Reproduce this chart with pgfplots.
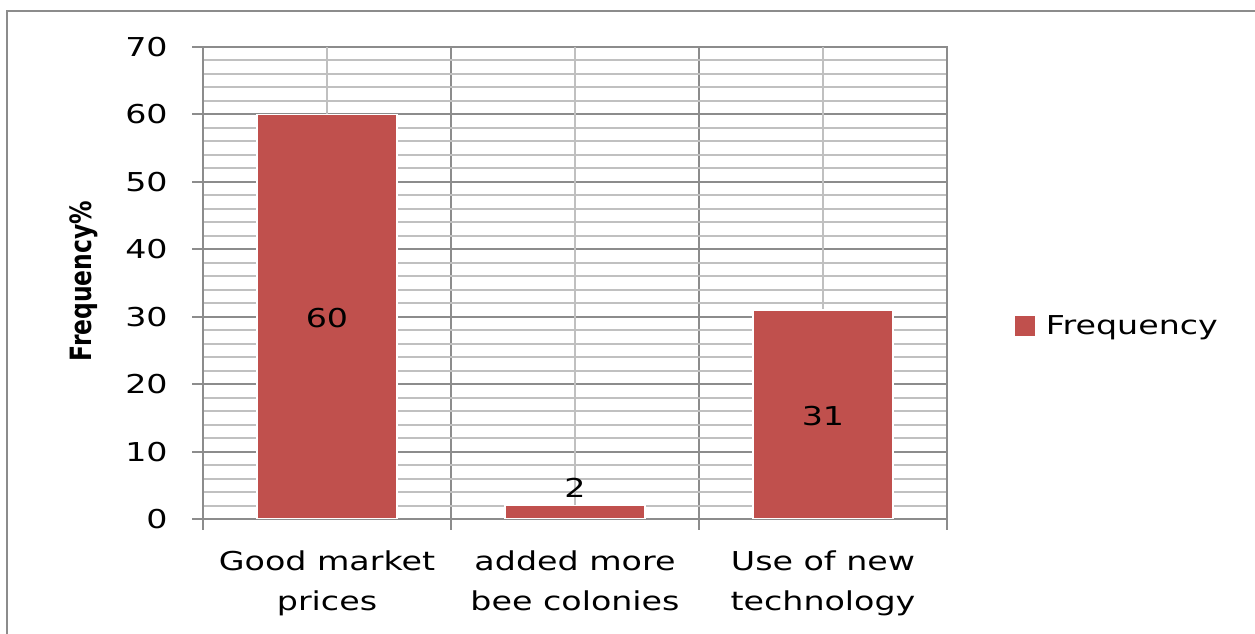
\documentclass[border=0pt]{standalone}
\usepackage{fontspec}
\setmainfont{DejaVu Sans}[FakeStretch=1.28]
\newfontfamily\ylabfont{DejaVu Sans}[FakeStretch=0.8]
\usepackage{pgfplots}
\pgfplotsset{compat=1.18}
\definecolor{barred}{HTML}{C0504D}
\definecolor{majorgray}{HTML}{8C8C8C}
\definecolor{minorgray}{HTML}{C0C0C0}
\begin{document}
\begin{tikzpicture}
\useasboundingbox (0,0) rectangle (941.25pt,475.5pt);
\draw[majorgray, line width=1.8pt] (5.25pt,-2pt) -- (5.25pt,467.25pt) -- (945pt,467.25pt);
\begin{axis}[
  at={(152.25pt,86.25pt)}, anchor=south west,
  scale only axis, width=558pt, height=354pt,
  xmin=-0.5, xmax=2.5, ymin=0, ymax=70,
  xtick={-0.5,0.5,1.5,2.5}, xticklabels={},
  xtick pos=bottom, ytick pos=left,
  extra x ticks={0,1,2},
  extra x tick labels={Good market\\prices, added more\\bee colonies, Use of new\\technology},
  extra x tick style={grid=major, major grid style={minorgray, line width=1.5pt}, major tick length=0pt,
     xticklabel style={align=center, font={\fontsize{19.5}{30}\selectfont}, yshift=-20pt}},
  ytick={0,10,...,70}, minor y tick num=4,
  grid=both,
  major grid style={majorgray, line width=1.5pt},
  minor grid style={minorgray, line width=1.5pt},
  tick align=outside, major tick length=8pt, minor tick length=0pt,
  tick style={majorgray, line width=1.5pt},
  axis line style={majorgray, line width=1.5pt},
  /pgf/number format/assume math mode=true,
  ticklabel style={font={\fontsize{19.5}{24}\selectfont}, text=black},
  yticklabel style={xshift=-15pt},
  ylabel={Frequency\%},
  every axis y label/.style={at={(axis description cs:-0.1505,0.504)}, rotate=90, anchor=base,
     font={\ylabfont\bfseries\fontsize{22}{26}\selectfont}},
  legend style={at={(rel axis cs:1.0914,0.409)}, anchor=west, draw=none, fill=none,
     font={\fontsize{19.5}{24}\selectfont}, inner sep=0pt, outer sep=0pt,
     /tikz/every odd column/.append style={column sep=6pt}},
  legend image code/.code={\fill[barred] (0pt,-7pt) rectangle (14pt,7pt);},
]
\addplot[ybar, bar width=105pt, fill=barred, draw=white, line width=1.2pt] coordinates {(0,60) (1,2) (2,31)};
\addlegendentry{Frequency}
\addplot[draw=none, mark=none, nodes near coords, point meta=explicit symbolic,
  every node near coord/.style={anchor=center, font={\fontsize{19.5}{24}\selectfont}, text=black},
  forget plot] coordinates {(0,29.8)[60] (1,4.6)[2] (2,15.3)[31]};
\end{axis}
\end{tikzpicture}
\end{document}
